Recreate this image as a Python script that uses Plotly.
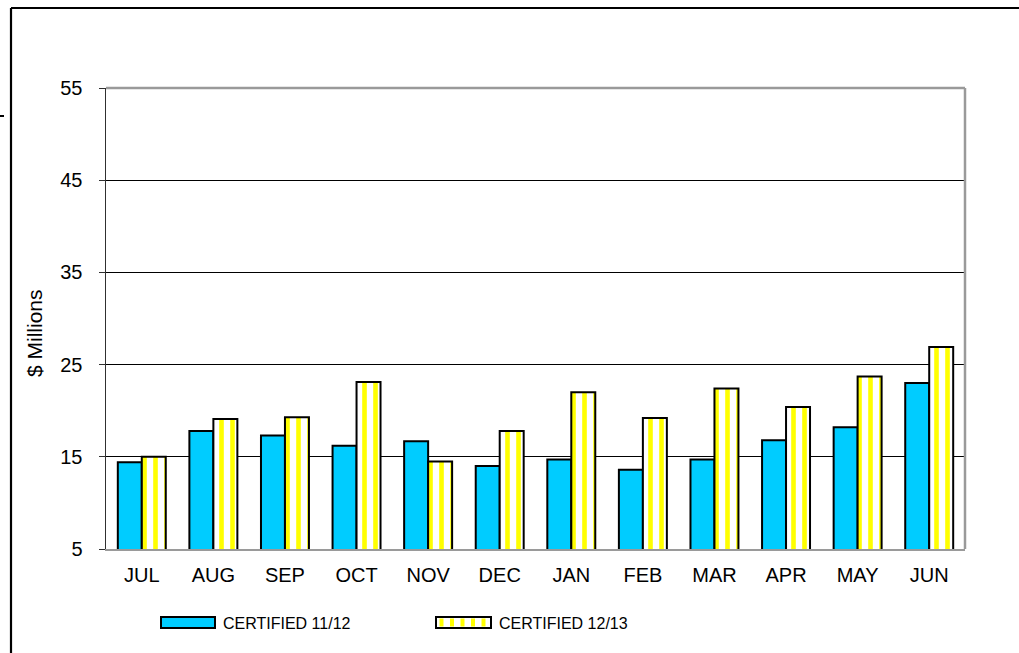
import plotly.graph_objects as go

months = ["JUL", "AUG", "SEP", "OCT", "NOV", "DEC", "JAN", "FEB", "MAR", "APR", "MAY", "JUN"]
cert_1112 = [14.4, 17.8, 17.3, 16.2, 16.7, 14.0, 14.7, 13.6, 14.7, 16.8, 18.2, 23.0]
cert_1213 = [15.0, 19.1, 19.3, 23.1, 14.5, 17.8, 22.0, 19.2, 22.4, 20.4, 23.7, 26.9]
series_names = ["CERTIFIED 11/12", "CERTIFIED 12/13"]
y_ticks = [5, 15, 25, 35, 45, 55]

W, H = 1019, 653
L, R, T, B = 106, 965, 88, 549


def px(x):
    return (x - L) / (R - L)


def py(y):
    return (B - y) / (B - T)


BLUE = "#00CCFF"
YEL = "#FFFF00"
FONT = "Liberation Sans, Arial, sans-serif"

fig = go.Figure()
fig.add_trace(go.Bar(
    x=months, y=cert_1112, name=series_names[0],
    marker=dict(color=BLUE, line=dict(color="black", width=2)),
    showlegend=False, hoverinfo="skip",
))
fig.add_trace(go.Bar(
    x=months, y=cert_1213, name=series_names[1],
    marker=dict(color="white", line=dict(color="black", width=2),
                pattern=dict(shape="|", fgcolor=YEL, bgcolor="white",
                             size=11, solidity=0.42, fillmode="replace")),
    showlegend=False, hoverinfo="skip",
))

shapes = []
# plot-area border (gray top/right)
shapes.append(dict(type="line", xref="paper", yref="paper", x0=0, x1=1, y0=1, y1=1,
                   line=dict(color="#9A9A9A", width=2.5), layer="above"))
shapes.append(dict(type="line", xref="paper", yref="paper", x0=1, x1=1, y0=0, y1=1,
                   line=dict(color="#9A9A9A", width=2.5), layer="above"))
# outer frame
shapes.append(dict(type="line", xref="paper", yref="paper", x0=px(11), x1=px(1030),
                   y0=py(8), y1=py(8), line=dict(color="black", width=2.2)))
shapes.append(dict(type="line", xref="paper", yref="paper", x0=px(11), x1=px(11),
                   y0=py(8), y1=py(670), line=dict(color="black", width=2.2)))
# small dash at far left
shapes.append(dict(type="line", xref="paper", yref="paper", x0=px(0), x1=px(4),
                   y0=py(116), y1=py(116), line=dict(color="black", width=2)))

# custom legend
ly0, ly1 = 617, 628
shapes.append(dict(type="rect", xref="paper", yref="paper", x0=px(161), x1=px(215),
                   y0=py(ly1), y1=py(ly0), fillcolor=BLUE, line=dict(color="black", width=2)))
shapes.append(dict(type="rect", xref="paper", yref="paper", x0=px(436), x1=px(491),
                   y0=py(ly1), y1=py(ly0), fillcolor="white", line=dict(color="black", width=2)))
for sx in [439.5, 450, 460.5, 471, 481.5]:
    shapes.append(dict(type="rect", xref="paper", yref="paper", x0=px(sx), x1=px(sx + 4),
                       y0=py(ly1 - 1.5), y1=py(ly0 + 1.5), fillcolor=YEL, line=dict(width=0)))

annotations = [
    dict(text=series_names[0], xref="paper", yref="paper", x=px(221), y=py(623),
         xanchor="left", yanchor="middle", showarrow=False,
         font=dict(family=FONT, size=16, color="black")),
    dict(text=series_names[1], xref="paper", yref="paper", x=px(497), y=py(623),
         xanchor="left", yanchor="middle", showarrow=False,
         font=dict(family=FONT, size=16, color="black")),
    dict(text="$ Millions", xref="paper", yref="paper", x=px(34), y=py(333),
         xanchor="center", yanchor="middle", textangle=-90, showarrow=False,
         font=dict(family=FONT, size=21, color="black")),
]

fig.update_layout(
    width=W, height=H,
    margin=dict(l=L, r=W - R, t=T, b=H - B, pad=0),
    paper_bgcolor="white", plot_bgcolor="white",
    barmode="group", bargap=0.33, bargroupgap=0,
    shapes=shapes, annotations=annotations,
    font=dict(family=FONT, size=19, color="black"),
    hovermode=False,
)
fig.update_xaxes(
    showline=True, linecolor="#9A9A9A", linewidth=2, mirror=False,
    ticks="", showgrid=False, tickfont=dict(size=20), ticklabelstandoff=7,
)
fig.update_yaxes(
    range=[5, 55], tickvals=y_ticks, showgrid=True, gridcolor="black", gridwidth=1,
    showline=True, linecolor="#303030", linewidth=1.5, zeroline=False,
    ticks="outside", ticklen=6, tickcolor="#303030", tickwidth=1,
    tickfont=dict(size=20), ticklabelstandoff=12,
)

fig.write_html(
    "out.html",
    config={"displayModeBar": False, "staticPlot": True},
    post_script="document.body.style.margin='0';document.body.style.padding='0';"
                "document.documentElement.style.overflow='hidden';",
)
